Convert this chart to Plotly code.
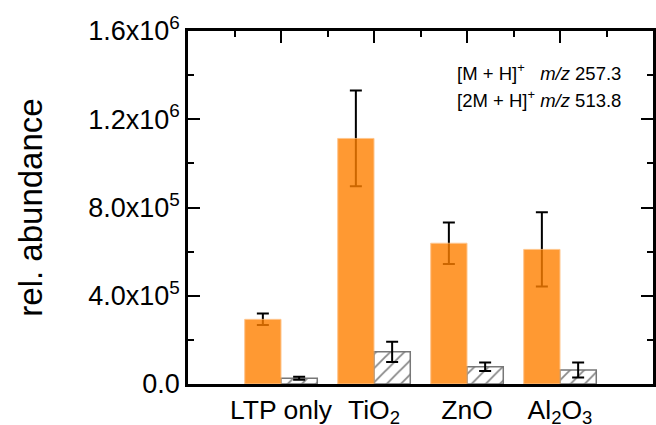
import plotly.graph_objects as go

# ---- data ----
categories = ["LTP only", "TiO<sub>2</sub>", "ZnO", "Al<sub>2</sub>O<sub>3</sub>"]
cat_pos = [1, 2, 3, 4]
mh_vals = [2.93e5, 1.113e6, 6.38e5, 6.10e5]      # [M + H]+  m/z 257.3
mh_err = [0.26e5, 2.17e5, 0.94e5, 1.68e5]
m2h_vals = [2.6e4, 1.46e5, 7.8e4, 6.3e4]        # [2M + H]+ m/z 513.8
m2h_err = [0.7e4, 4.6e4, 1.9e4, 3.4e4]
y_tickvals = [0, 4e5, 8e5, 1.2e6, 1.6e6]
y_ticktext = ["0.0", "4.0x10<sup>5</sup>", "8.0x10<sup>5</sup>",
              "1.2x10<sup>6</sup>", "1.6x10<sup>6</sup>"]

BW = 0.39
FONT = "Liberation Sans, Arial, sans-serif"

fig = go.Figure()

# hatched bars (main subplot, below error bars)
fig.add_trace(go.Bar(
    x=cat_pos, y=m2h_vals, offset=0, width=BW,
    marker=dict(color="white",
                pattern=dict(shape="/", fgcolor="#111111", bgcolor="white",
                             size=10, solidity=0.18),
                line=dict(color="#777777", width=1.5)),
    showlegend=False, xaxis="x", yaxis="y"))

# error bars
fig.add_trace(go.Scatter(
    x=[p - BW / 2 for p in cat_pos], y=mh_vals, mode="markers",
    marker=dict(size=1, opacity=0),
    error_y=dict(type="data", array=mh_err, color="black", thickness=2, width=6),
    showlegend=False, xaxis="x", yaxis="y"))
fig.add_trace(go.Scatter(
    x=[p + BW / 2 for p in cat_pos], y=m2h_vals, mode="markers",
    marker=dict(size=1, opacity=0),
    error_y=dict(type="data", array=m2h_err, color="black", thickness=2, width=6),
    showlegend=False, xaxis="x", yaxis="y"))

# semi-transparent orange bars (overlay subplot, drawn on top of error bars)
fig.add_trace(go.Bar(
    x=cat_pos, y=mh_vals, offset=-BW, width=BW,
    marker=dict(color="#FF8000", line=dict(color="#FFB870", width=1)),
    opacity=0.8, showlegend=False, xaxis="x2", yaxis="y2"))

fig.update_layout(
    width=656, height=425,
    margin=dict(l=188, r=3, t=31, b=41),
    paper_bgcolor="white", plot_bgcolor="white",
    barmode="overlay",
    font=dict(family=FONT, color="black"),
    xaxis=dict(range=[0, 5], showgrid=False, zeroline=False, automargin=False,
               showline=True, linecolor="black", linewidth=2.5, mirror=True,
               ticks="", tickvals=cat_pos, ticktext=categories,
               tickfont=dict(size=26.5, family=FONT)),
    xaxis2=dict(range=[0, 5], overlaying="x", side="top", showgrid=False,
                automargin=False,
                zeroline=False, showline=False, ticks="inside", ticklen=12,
                tickwidth=2, tickcolor="black", tickvals=cat_pos,
                showticklabels=False,
                minor=dict(tickvals=[0.5, 1.5, 2.5, 3.5, 4.5], ticks="inside",
                           ticklen=6, tickwidth=2, tickcolor="black")),
    yaxis=dict(range=[0, 1.6e6], showgrid=False, zeroline=False, automargin=False,
               showline=True, linecolor="black", linewidth=2.5, mirror="ticks",
               ticks="inside", ticklen=12, tickwidth=2, tickcolor="black",
               tickvals=y_tickvals, ticktext=y_ticktext,
               tickfont=dict(size=27, family=FONT),
               minor=dict(dtick=2e5, ticks="inside", ticklen=6, tickwidth=2,
                          tickcolor="black"),
               title=dict(text="rel. abundance", font=dict(size=33, family=FONT),
                          standoff=36)),
    yaxis2=dict(range=[0, 1.6e6], overlaying="y", showgrid=False, automargin=False,
                zeroline=False, showline=False, ticks="", showticklabels=False),
)

fig.add_annotation(xref="paper", yref="paper", x=(455 - 188) / 465, y=(385 - 73) / 353,
                   xanchor="left", yanchor="middle", showarrow=False,
                   text="[M + H]<sup>+</sup>   <i>m/z</i> 257.3",
                   font=dict(size=18.5, family=FONT, color="black"))
fig.add_annotation(xref="paper", yref="paper", x=(455 - 188) / 465, y=(385 - 100) / 353,
                   xanchor="left", yanchor="middle", showarrow=False,
                   text="[2M + H]<sup>+</sup> <i>m/z</i> 513.8",
                   font=dict(size=18.5, family=FONT, color="black"))

fig.write_html("out.html")
